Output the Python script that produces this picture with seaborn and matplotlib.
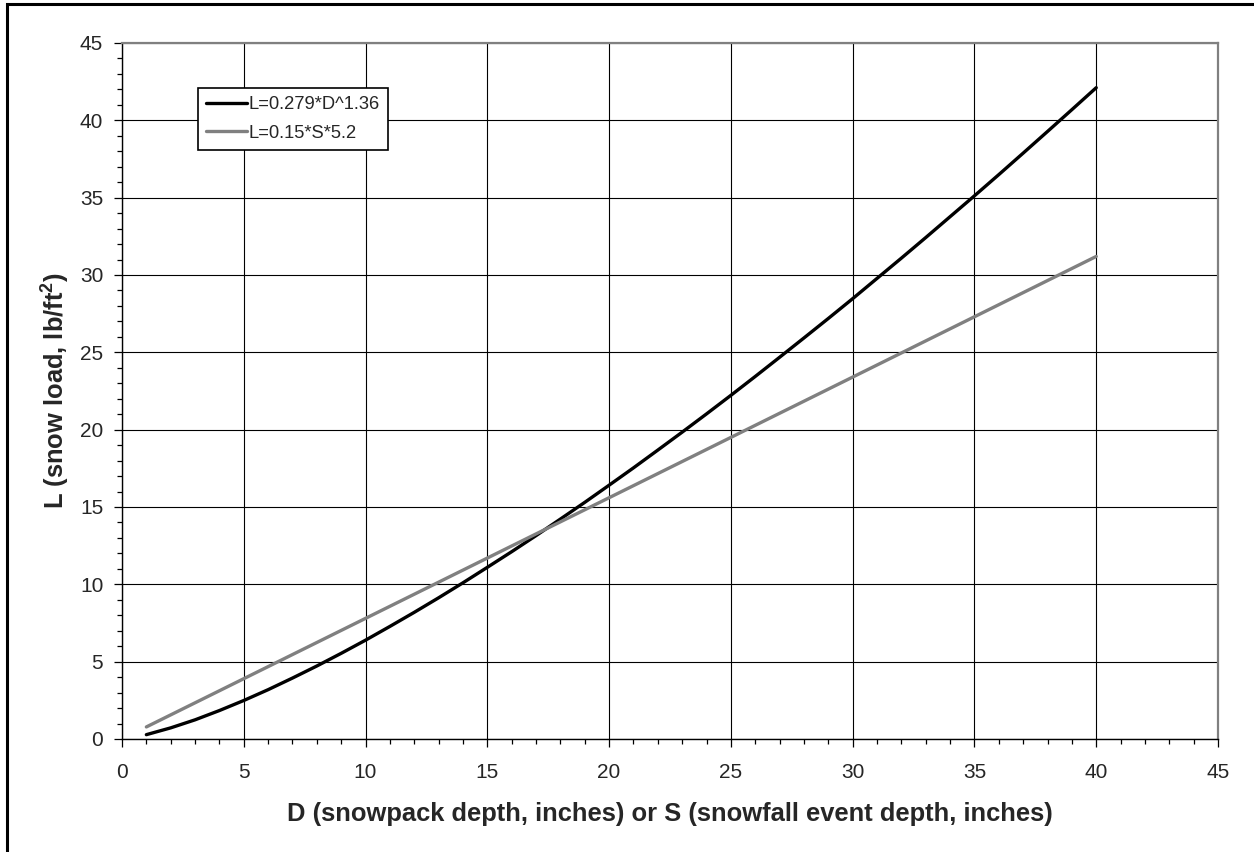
import matplotlib
matplotlib.use("Agg")
import matplotlib.pyplot as plt
import seaborn as sns
import pandas as pd
from matplotlib.ticker import MultipleLocator
from matplotlib.patches import Rectangle

# Data (depth in inches, load in lb/ft^2)
depth = [1, 2, 3, 4, 5, 6, 7, 8, 9, 10, 11, 12, 13, 14, 15, 16, 17, 18, 19, 20,
         21, 22, 23, 24, 25, 26, 27, 28, 29, 30, 31, 32, 33, 34, 35, 36, 37, 38, 39, 40]
load_pack = [0.28, 0.72, 1.24, 1.84, 2.49, 3.19, 3.94, 4.72, 5.54, 6.39,
             7.28, 8.19, 9.13, 10.10, 11.10, 12.11, 13.15, 14.22, 15.30, 16.41,
             17.53, 18.68, 19.84, 21.02, 22.22, 23.44, 24.68, 25.93, 27.19, 28.47,
             29.78, 31.09, 32.42, 33.77, 35.12, 36.49, 37.88, 39.28, 40.69, 42.11]
load_event = [0.78, 1.56, 2.34, 3.12, 3.90, 4.68, 5.46, 6.24, 7.02, 7.80,
              8.58, 9.36, 10.14, 10.92, 11.70, 12.48, 13.26, 14.04, 14.82, 15.60,
              16.38, 17.16, 17.94, 18.72, 19.50, 20.28, 21.06, 21.84, 22.62, 23.40,
              24.18, 24.96, 25.74, 26.52, 27.30, 28.08, 28.86, 29.64, 30.42, 31.20]
series_names = ["L=0.279*D^1.36", "L=0.15*S*5.2"]
series_colors = ["#000000", "#808080"]

df = pd.concat([
    pd.DataFrame({"x": depth, "y": load_pack, "series": series_names[0]}),
    pd.DataFrame({"x": depth, "y": load_event, "series": series_names[1]}),
])

sns.set_theme(style="white")
plt.rcParams["font.family"] = ["Liberation Sans", "DejaVu Sans"]
plt.rcParams["mathtext.fontset"] = "custom"
plt.rcParams["mathtext.rm"] = "Liberation Sans"
plt.rcParams["mathtext.bf"] = "Liberation Sans:bold"

fig = plt.figure(figsize=(12.54, 8.52), dpi=100)
ax = fig.add_axes([122 / 1254, 1 - 739 / 852, 1096 / 1254, 696 / 852])

sns.lineplot(data=df, x="x", y="y", hue="series", palette=series_colors,
             linewidth=2.4, ax=ax, legend=True)

ax.set_xlim(0, 45)
ax.set_ylim(0, 45)
ax.xaxis.set_major_locator(MultipleLocator(5))
ax.yaxis.set_major_locator(MultipleLocator(5))
ax.xaxis.set_minor_locator(MultipleLocator(1))
ax.yaxis.set_minor_locator(MultipleLocator(1))
ax.grid(True, which="major", color="black", linewidth=0.8)
ax.set_axisbelow(True)

ax.tick_params(which="major", direction="out", length=5.5, width=0.9, color="black",
               labelsize=15, bottom=True, left=True, top=False, right=False)
ax.tick_params(axis="x", which="major", pad=12)
ax.tick_params(axis="y", which="major", pad=8)
ax.tick_params(which="minor", direction="out", length=3.6, width=0.9, color="black",
               bottom=True, left=True, top=False, right=False)

for side in ["left", "bottom"]:
    ax.spines[side].set_color("black")
    ax.spines[side].set_linewidth(1.0)
for side in ["top", "right"]:
    ax.spines[side].set_color("#808080")
    ax.spines[side].set_linewidth(1.6)

ax.set_xlabel("D (snowpack depth, inches) or S (snowfall event depth, inches)",
              fontsize=18.4, fontweight="bold", labelpad=14)
ax.set_ylabel(r"L (snow load, lb/ft$^\mathbf{2}$)", fontsize=18.4, fontweight="bold",
              labelpad=6.5)

leg = ax.legend(loc="upper left", bbox_to_anchor=((198 - 122) / 1096, (739 - 88) / 696),
                frameon=True, fancybox=False, fontsize=13.2, handlelength=2.2,
                handletextpad=0.1, borderpad=0.45, labelspacing=0.62,
                borderaxespad=0)
leg.get_frame().set_edgecolor("black")
leg.get_frame().set_linewidth(1.2)
leg.get_frame().set_facecolor("white")
leg.get_frame().set_alpha(1)
for h in leg.get_lines():
    h.set_linewidth(2.4)

fig.patches.append(Rectangle((6.5 / 1254, -0.1), 1.2, 1 - 3.5 / 852 + 0.1,
                             transform=fig.transFigure, fill=False,
                             edgecolor="black", linewidth=2.2))

fig.savefig("out.png", dpi=100)
